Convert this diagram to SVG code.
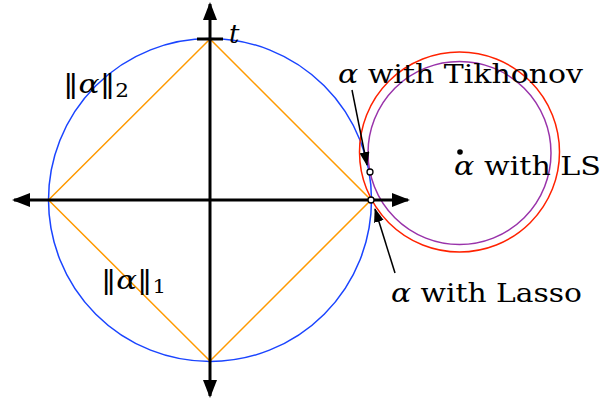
<svg xmlns="http://www.w3.org/2000/svg" width="603" height="400" viewBox="0 0 603 400">
<style>
.t{font-size:26px;fill:#000}
.i{font-style:italic}
.ax{stroke:#000;stroke-width:3;fill:none}
.ann{stroke:#000;stroke-width:1.5;fill:none}
</style>
<defs>
<marker id="big" viewBox="0 0 18 14" refX="16" refY="7" markerWidth="18" markerHeight="14" markerUnits="userSpaceOnUse" orient="auto">
<path d="M0,0 L18,7 L0,14 Z" fill="#000"/>
</marker>
<marker id="sm" viewBox="0 0 14 10" refX="13" refY="5" markerWidth="14" markerHeight="10" markerUnits="userSpaceOnUse" orient="auto">
<path d="M0,0 L14,5 L0,10 Z" fill="#000"/>
</marker>
</defs>
<g id="l2ball"><circle cx="210" cy="200" r="161.5" fill="none" stroke="#1a44ff" stroke-width="1.5"/></g>
<g id="l1ball"><polygon points="210,39 371,200 210,361 48.5,200" fill="none" stroke="#ff9a00" stroke-width="1.5"/></g>
<g id="redcircle"><circle cx="459.5" cy="152" r="100" fill="none" stroke="#ff2200" stroke-width="1.5"/></g>
<g id="purplecircle"><circle cx="459.5" cy="153" r="91.5" fill="none" stroke="#9933aa" stroke-width="1.5"/></g>
<g id="axes">
<line class="ax" x1="210" y1="200" x2="408" y2="200" marker-end="url(#big)"/>
<line class="ax" x1="210" y1="200" x2="14" y2="200" marker-end="url(#big)"/>
<line class="ax" x1="210" y1="200" x2="210" y2="4" marker-end="url(#big)"/>
<line class="ax" x1="210" y1="200" x2="210" y2="396" marker-end="url(#big)"/>
<line class="ax" x1="197" y1="39" x2="223" y2="39"/>
</g>
<g id="connectors">
<line class="ann" x1="352" y1="90" x2="367" y2="165" marker-end="url(#sm)"/>
<line class="ann" x1="395" y1="273" x2="375" y2="209" marker-end="url(#sm)"/>
</g>
<g id="points">
<circle cx="370" cy="172" r="3" fill="#fff" stroke="#000" stroke-width="1.3"/>
<circle cx="371" cy="200" r="3" fill="#fff" stroke="#000" stroke-width="1.3"/>
<circle cx="460" cy="152" r="2.8" fill="#000"/>
</g>
<g id="labels" font-family="DejaVu Serif, Liberation Serif, serif">
<text class="t i" x="229" y="43">t</text>
<text class="t" x="63" y="93" textLength="66" lengthAdjust="spacingAndGlyphs">‖<tspan class="i">α</tspan>‖<tspan font-size="18" dy="4">2</tspan></text>
<text class="t" x="101" y="289" textLength="65" lengthAdjust="spacingAndGlyphs">‖<tspan class="i">α</tspan>‖<tspan font-size="18" dy="4">1</tspan></text>
<text class="t" x="338" y="83" textLength="245" lengthAdjust="spacingAndGlyphs"><tspan class="i">α</tspan> with Tikhonov</text>
<text class="t" x="454" y="175" textLength="147" lengthAdjust="spacingAndGlyphs"><tspan class="i">α</tspan> with LS</text>
<text class="t" x="391" y="302" textLength="191" lengthAdjust="spacingAndGlyphs"><tspan class="i">α</tspan> with Lasso</text>
</g>
</svg>
